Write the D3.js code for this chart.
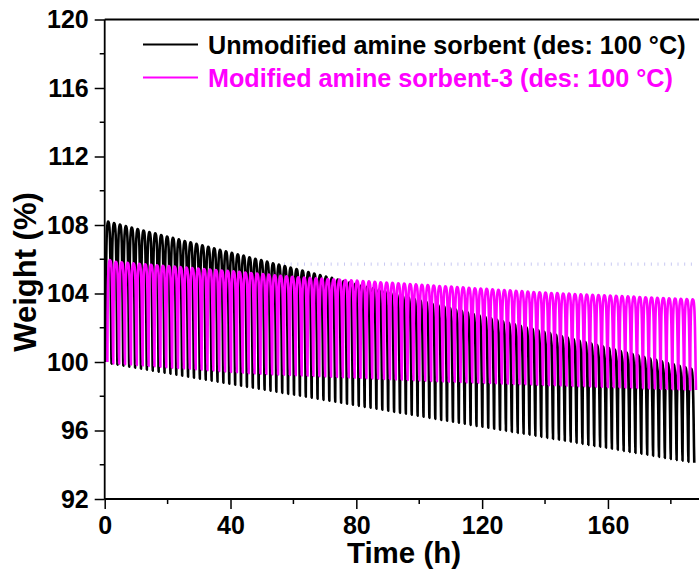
<!DOCTYPE html>
<html>
<head>
<meta charset="utf-8">
<script src="https://cdn.jsdelivr.net/npm/d3@7"></script>
<style>
  html, body { margin: 0; padding: 0; background: #fff; }
  svg { display: block; }
  text { font-family: "Liberation Sans", Arial, Helvetica, sans-serif; font-weight: bold; }
</style>
</head>
<body>
<svg id="chart" width="699" height="573"></svg>
<script>
// Cyclic CO2 adsorption/desorption weight traces (TGA), one value per cycle.
// Peak weight (%) reached at the end of each adsorption step.
const unmodifiedPeaks = [
  108.20,108.11,108.03,107.94,107.85,107.77,107.68,107.59,107.51,107.42,
  107.33,107.25,107.16,107.07,106.99,106.90,106.81,106.73,106.64,106.55,
  106.47,106.38,106.29,106.21,106.12,106.03,105.95,105.86,105.77,105.69,
  105.60,105.51,105.43,105.34,105.25,105.17,105.08,104.99,104.91,104.82,
  104.73,104.65,104.56,104.47,104.39,104.30,104.21,104.13,104.04,103.95,
  103.87,103.78,103.69,103.60,103.52,103.43,103.34,103.26,103.17,103.08,
  103.00,102.91,102.82,102.74,102.65,102.56,102.48,102.39,102.30,102.22,
  102.13,102.04,101.96,101.87,101.78,101.70,101.61,101.52,101.44,101.35,
  101.26,101.18,101.09,101.00,100.92,100.83,100.74,100.66,100.57,100.48,
  100.40,100.31,100.22,100.14,100.05, 99.96, 99.88, 99.79, 99.70, 99.62
];
// Weight (%) after each desorption step (one more than the peaks: start + end of every cycle).
const unmodifiedTroughs = [
  100.00,
   99.90, 99.84, 99.78, 99.72, 99.67, 99.61, 99.55, 99.49, 99.43, 99.37,
   99.32, 99.26, 99.20, 99.14, 99.08, 99.02, 98.96, 98.91, 98.85, 98.79,
   98.73, 98.67, 98.61, 98.55, 98.50, 98.44, 98.38, 98.32, 98.26, 98.20,
   98.14, 98.09, 98.03, 97.97, 97.91, 97.85, 97.79, 97.74, 97.68, 97.62,
   97.56, 97.50, 97.44, 97.38, 97.33, 97.27, 97.21, 97.15, 97.09, 97.03,
   96.98, 96.92, 96.86, 96.80, 96.74, 96.68, 96.62, 96.57, 96.51, 96.45,
   96.39, 96.33, 96.27, 96.22, 96.16, 96.10, 96.04, 95.98, 95.92, 95.86,
   95.81, 95.75, 95.69, 95.63, 95.57, 95.51, 95.46, 95.40, 95.34, 95.28,
   95.22, 95.16, 95.10, 95.05, 94.99, 94.93, 94.87, 94.81, 94.75, 94.69,
   94.64, 94.58, 94.52, 94.46, 94.40, 94.34, 94.28, 94.23, 94.17, 94.11
];
const modifiedPeaks = [
  105.95,105.85,105.82,105.79,105.76,105.74,105.71,105.68,105.65,105.62,
  105.60,105.57,105.54,105.51,105.48,105.46,105.43,105.40,105.37,105.34,
  105.32,105.29,105.26,105.23,105.20,105.17,105.14,105.10,105.07,105.04,
  105.01,104.98,104.95,104.93,104.91,104.89,104.87,104.85,104.83,104.81,
  104.79,104.77,104.75,104.73,104.71,104.69,104.66,104.64,104.62,104.60,
  104.58,104.55,104.53,104.51,104.49,104.47,104.44,104.42,104.40,104.38,
  104.36,104.33,104.31,104.29,104.27,104.25,104.22,104.20,104.18,104.16,
  104.14,104.11,104.09,104.07,104.05,104.03,104.02,104.00,103.99,103.97,
  103.95,103.94,103.92,103.91,103.89,103.88,103.86,103.85,103.83,103.82,
  103.80,103.78,103.77,103.75,103.74,103.72,103.71,103.69,103.68,103.66
];
const modifiedTroughs = [
  100.00,
   99.92, 99.90, 99.87, 99.85, 99.82, 99.80, 99.77, 99.75, 99.72, 99.70,
   99.67, 99.65, 99.62, 99.60, 99.57, 99.55, 99.52, 99.50, 99.47, 99.45,
   99.42, 99.40, 99.37, 99.34, 99.33, 99.31, 99.30, 99.28, 99.27, 99.26,
   99.24, 99.23, 99.21, 99.20, 99.18, 99.17, 99.15, 99.14, 99.13, 99.11,
   99.10, 99.08, 99.07, 99.05, 99.04, 99.02, 99.01, 99.00, 98.98, 98.97,
   98.95, 98.94, 98.92, 98.91, 98.89, 98.88, 98.86, 98.85, 98.84, 98.83,
   98.81, 98.80, 98.79, 98.78, 98.77, 98.76, 98.74, 98.73, 98.72, 98.71,
   98.70, 98.69, 98.67, 98.66, 98.65, 98.64, 98.63, 98.62, 98.60, 98.59,
   98.58, 98.57, 98.56, 98.55, 98.53, 98.52, 98.51, 98.50, 98.49, 98.48,
   98.46, 98.45, 98.44, 98.43, 98.42, 98.41, 98.39, 98.38, 98.37, 98.36
];

// Cycle timing (h): length of one adsorption/desorption cycle and when the first cycle starts.
const cycleHours = 1.8715;
const unmodifiedStart = 0.30;
const modifiedStart = 0.85;

// Shape of one cycle: fraction of the cycle elapsed vs. fraction of the trough-to-peak swing.
const shapeTime  = [0, 0.04, 0.10, 0.18, 0.28, 0.40, 0.52, 0.64, 0.74, 0.82, 0.89, 0.95, 1];
const shapeLevel = [0, 0.45, 0.74, 0.90, 0.97, 1.00, 0.995, 0.96, 0.87, 0.70, 0.45, 0.17, 0];
const peakFraction = 0.40;

// Faint reference level drawn in the original instrument plot.
const refLevel = 105.72;
const refSpan = [57, 187.2];

const xTicks = [0, 40, 80, 120, 160];
const xMinor = [20, 60, 100, 140, 180];
const yTicks = [92, 96, 100, 104, 108, 112, 116, 120];
const yMinor = [94, 98, 102, 106, 110, 114, 118];

const seriesNames = ["Unmodified amine sorbent (des: 100 \u00B0C)", "Modified amine sorbent-3 (des: 100 \u00B0C)"];
const seriesColors = ["#000000", "#ff00ff"];

const svg = d3.select("#chart");
const x = d3.scaleLinear().domain([0, 190]).range([104.7, 702.3]);
const y = d3.scaleLinear().domain([92, 120]).range([499, 19.5]);

function cyclePoints(peaks, troughs, start) {
  const pts = [];
  peaks.forEach((pk, i) => {
    const t0 = start + i * cycleHours;
    const last = i === peaks.length - 1;
    const n = last ? shapeTime.length : shapeTime.length - 1;
    for (let j = 0; j < n; j++) {
      const base = shapeTime[j] <= peakFraction ? troughs[i] : troughs[i + 1];
      pts.push([t0 + shapeTime[j] * cycleHours, base + shapeLevel[j] * (pk - base)]);
    }
  });
  return pts;
}

const line = d3.line().x(d => x(d[0])).y(d => y(d[1])).curve(d3.curveMonotoneX);

// faint dotted reference level
svg.append("line")
  .attr("x1", x(refSpan[0])).attr("x2", x(refSpan[1]))
  .attr("y1", y(refLevel)).attr("y2", y(refLevel))
  .attr("stroke", "#c9c9f2").attr("stroke-width", 3.3)
  .attr("stroke-dasharray", "1 5.67");

const series = [
  cyclePoints(unmodifiedPeaks, unmodifiedTroughs, unmodifiedStart),
  cyclePoints(modifiedPeaks, modifiedTroughs, modifiedStart)
];
series.forEach((pts, i) => {
  svg.append("path")
    .attr("d", line(pts))
    .attr("fill", "none")
    .attr("stroke", seriesColors[i])
    .attr("stroke-width", 2.6)
    .attr("stroke-linejoin", "round");
});

// axes
const axisFont = g => g.selectAll("text")
  .style("font-size", "25px").style("font-weight", "bold")
  .style("font-family", '"Liberation Sans", Arial, sans-serif').attr("fill", "#000");

const gy = svg.append("g").attr("transform", `translate(${x(0)},0)`)
  .call(d3.axisLeft(y).tickValues(yTicks).tickSize(10).tickPadding(6).tickFormat(d3.format("d")));
gy.select(".domain").remove();
gy.selectAll("line").attr("stroke-width", 1.5);
axisFont(gy);
gy.selectAll(".minor").data(yMinor).enter().append("line")
  .attr("x1", 0).attr("x2", -5).attr("y1", d => y(d)).attr("y2", d => y(d))
  .attr("stroke", "#000").attr("stroke-width", 1.5);

const gx = svg.append("g").attr("transform", `translate(0,${y(92)})`)
  .call(d3.axisBottom(x).tickValues(xTicks).tickSize(10).tickPadding(7).tickFormat(d3.format("d")));
gx.select(".domain").remove();
gx.selectAll("line").attr("stroke-width", 1.5);
axisFont(gx);
gx.selectAll(".minor").data(xMinor).enter().append("line")
  .attr("x1", d => x(d)).attr("x2", d => x(d)).attr("y1", 0).attr("y2", 5)
  .attr("stroke", "#000").attr("stroke-width", 1.5);

// frame lines
svg.append("line").attr("x1", x(0)).attr("x2", x(0)).attr("y1", y(120)).attr("y2", y(92))
  .attr("stroke", "#000").attr("stroke-width", 1.8);
svg.append("line").attr("x1", x(0)).attr("x2", 702).attr("y1", y(92)).attr("y2", y(92))
  .attr("stroke", "#000").attr("stroke-width", 1.8);
svg.append("line").attr("x1", x(0)).attr("x2", 702).attr("y1", y(120)).attr("y2", y(120))
  .attr("stroke", "#000").attr("stroke-width", 1.8);

// axis titles
svg.append("text").attr("x", (x(0) + x(190)) / 2 + 0.5).attr("y", 563)
  .attr("text-anchor", "middle").style("font-size", "29.5px").text("Time (h)");
svg.append("text").attr("transform", "translate(36,272) rotate(-90)")
  .attr("text-anchor", "middle").style("font-size", "31px").text("Weight (%)");

// legend
const legendY = [44.5, 77.5];
seriesNames.forEach((name, i) => {
  svg.append("line").attr("x1", 143).attr("x2", 198)
    .attr("y1", legendY[i]).attr("y2", legendY[i])
    .attr("stroke", seriesColors[i]).attr("stroke-width", 2.2);
  svg.append("text").attr("x", 208).attr("y", legendY[i] + 9)
    .attr("fill", seriesColors[i]).style("font-size", "25.2px").text(name);
});
</script>
</body>
</html>
